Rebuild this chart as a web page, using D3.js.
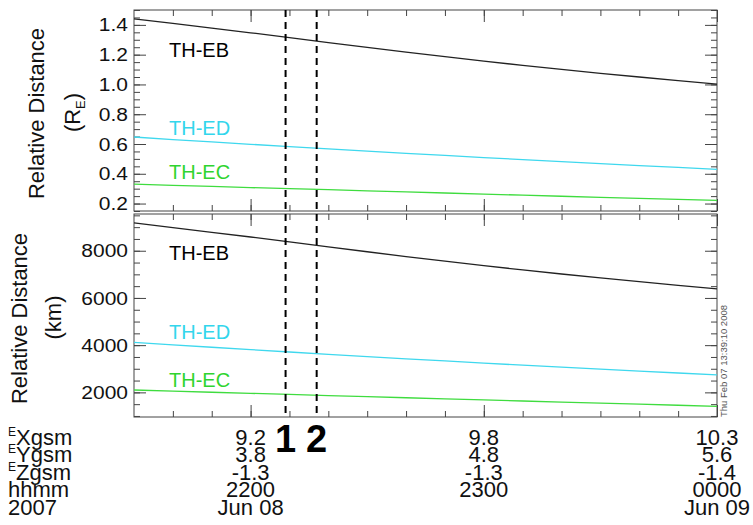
<!DOCTYPE html>
<html>
<head>
<meta charset="utf-8">
<script src="https://cdn.jsdelivr.net/npm/d3@7"></script>
<style>
  body { margin: 0; background: #fff; }
  svg { display: block; font-family: "Liberation Sans", Arial, Helvetica, sans-serif; }
</style>
</head>
<body>
<svg id="chart" width="753" height="525"></svg>
<script>
// ---- data (10 minute samples) ----
const sampleTimes = [
  "2007-06-08 21:30", "2007-06-08 21:40", "2007-06-08 21:50", "2007-06-08 22:00",
  "2007-06-08 22:10", "2007-06-08 22:20", "2007-06-08 22:30", "2007-06-08 22:40",
  "2007-06-08 22:50", "2007-06-08 23:00", "2007-06-08 23:10", "2007-06-08 23:20",
  "2007-06-08 23:30", "2007-06-08 23:40", "2007-06-08 23:50", "2007-06-09 00:00"
];
// relative distance in Earth radii
const ebRe = [1.441, 1.410, 1.378, 1.347, 1.314, 1.281, 1.249, 1.217, 1.187, 1.157, 1.128, 1.101, 1.075, 1.050, 1.025, 1.002];
const edRe = [0.647, 0.630, 0.614, 0.598, 0.582, 0.567, 0.552, 0.537, 0.523, 0.509, 0.495, 0.481, 0.468, 0.455, 0.443, 0.430];
const ecRe = [0.330, 0.322, 0.315, 0.307, 0.300, 0.293, 0.285, 0.278, 0.271, 0.264, 0.256, 0.249, 0.242, 0.235, 0.228, 0.221];
// relative distance in km
const ebKm = [9180, 8983, 8779, 8582, 8372, 8161, 7957, 7753, 7562, 7371, 7187, 7014, 6849, 6690, 6530, 6384];
const edKm = [4120, 4015, 3912, 3810, 3710, 3612, 3516, 3422, 3330, 3240, 3152, 3066, 2982, 2900, 2820, 2740];
const ecKm = [2100, 2052, 2005, 1958, 1911, 1864, 1818, 1772, 1726, 1680, 1634, 1589, 1544, 1499, 1454, 1410];

const seriesNames = ["TH-EB", "TH-ED", "TH-EC"];
const seriesColors = ["#222222", "#3fd8ee", "#3fdc3f"];
const labelColors = ["#000000", "#33d6ec", "#2fd42f"];

const reTicks = [0.2, 0.4, 0.6, 0.8, 1.0, 1.2, 1.4];
const kmTicks = [2000, 4000, 6000, 8000];

// ephemeris rows under the time axis
const tickTimes = ["2007-06-08 22:00", "2007-06-08 23:00", "2007-06-09 00:00"];
const xgsmLabels = ["9.2", "9.8", "10.3"];
const ygsmLabels = ["3.8", "4.8", "5.6"];
const zgsmLabels = ["-1.3", "-1.3", "-1.4"];
const hhmmLabels = ["2200", "2300", "0000"];
const dateLabels = ["Jun 08", "", "Jun 09"];

const eventTimes = ["2007-06-08 22:09", "2007-06-08 22:17"];
const eventLabels = ["1", "2"];

// ---- layout ----
const parse = d3.timeParse("%Y-%m-%d %H:%M");
const svg = d3.select("#chart");
const axisColor = "#444";
const left = 134, right = 717;

const x = d3.scaleTime()
  .domain([parse("2007-06-08 21:30"), parse("2007-06-09 00:00")])
  .range([left, right]);

const majorX = tickTimes.map(parse);
const minorX = d3.timeMinute.every(10).range(parse("2007-06-08 21:40"), parse("2007-06-09 00:00"));

const panels = [
  {
    top: 10, bottom: 211, domain: [0.15, 1.5], ticks: reTicks,
    minor: d3.range(3, 31).map(i => i * 0.05), fmt: d3.format(".1f"),
    data: [ebRe, edRe, ecRe], labelVals: [1.186, 0.658, 0.364],
    titleX: 44, unitX: 80, unit: "RE"
  },
  {
    top: 214, bottom: 417, domain: [956, 9557], ticks: kmTicks,
    minor: d3.range(2, 20).map(i => i * 500), fmt: d3.format("d"),
    data: [ebKm, edKm, ecKm], labelVals: [7600, 4280, 2230],
    titleX: 27, unitX: 61, unit: "km"
  }
];

function styleText(sel) {
  sel.selectAll("text")
    .attr("fill", "#111")
    .style("font-size", "21px")
    .style("font-family", "'Liberation Sans', Arial, sans-serif")
    .attr("transform", "scale(1,0.9)");
}

panels.forEach(p => {
  const y = d3.scaleLinear().domain(p.domain).range([p.bottom, p.top]);
  const g = svg.append("g");

  // left axis with labels
  const yl = g.append("g").attr("transform", `translate(${left},0)`)
    .call(d3.axisLeft(y).tickValues(p.ticks).tickSize(-12).tickPadding(6).tickFormat(p.fmt));
  styleText(yl);
  g.append("g").attr("transform", `translate(${left},0)`)
    .call(d3.axisLeft(y).tickValues(p.minor).tickSize(-6).tickFormat(""));
  // right axis, ticks only
  g.append("g").attr("transform", `translate(${right},0)`)
    .call(d3.axisRight(y).tickValues(p.ticks).tickSize(-12).tickFormat(""));
  g.append("g").attr("transform", `translate(${right},0)`)
    .call(d3.axisRight(y).tickValues(p.minor).tickSize(-6).tickFormat(""));
  // top and bottom time ticks
  g.append("g").attr("transform", `translate(0,${p.bottom})`)
    .call(d3.axisBottom(x).tickValues(majorX).tickSize(-12).tickFormat(""));
  g.append("g").attr("transform", `translate(0,${p.bottom})`)
    .call(d3.axisBottom(x).tickValues(minorX).tickSize(-6).tickFormat(""));
  g.append("g").attr("transform", `translate(0,${p.top})`)
    .call(d3.axisTop(x).tickValues(majorX).tickSize(-12).tickFormat(""));
  g.append("g").attr("transform", `translate(0,${p.top})`)
    .call(d3.axisTop(x).tickValues(minorX).tickSize(-6).tickFormat(""));

  g.selectAll(".domain").remove();
  g.selectAll(".tick line").attr("stroke", axisColor);

  g.append("rect")
    .attr("x", left).attr("y", p.top)
    .attr("width", right - left).attr("height", p.bottom - p.top)
    .attr("fill", "none").attr("stroke", axisColor).attr("stroke-width", 1);

  // series
  const line = d3.line()
    .x((d, i) => x(parse(sampleTimes[i])))
    .y(d => y(d));
  p.data.forEach((vals, k) => {
    g.append("path")
      .datum(vals)
      .attr("d", line)
      .attr("fill", "none")
      .attr("stroke", seriesColors[k])
      .attr("stroke-width", 1.3);
    g.append("text")
      .attr("x", x(parse("2007-06-08 21:39")))
      .attr("y", y(p.labelVals[k]))
      .attr("fill", labelColors[k])
      .style("font-size", "20px")
      .text(seriesNames[k]);
  });

  // y titles
  const midY = (p.top + p.bottom) / 2;
  svg.append("text")
    .attr("transform", `translate(${p.titleX},${midY + 3}) rotate(-90)`)
    .attr("text-anchor", "middle")
    .attr("fill", "#111")
    .style("font-size", "22px")
    .text("Relative Distance");
  const u = svg.append("text")
    .attr("transform", `translate(${p.unitX},${midY + 2}) rotate(-90)`)
    .attr("text-anchor", "middle")
    .attr("fill", "#111")
    .style("font-size", "22px");
  if (p.unit === "RE") {
    u.append("tspan").text("(R");
    u.append("tspan").attr("dy", 5).style("font-size", "13px").text("E");
    u.append("tspan").attr("dy", -5).text(")");
  } else {
    u.text("(km)");
  }
});

// event markers
eventTimes.forEach((t, i) => {
  const ex = x(parse(t));
  svg.append("line")
    .attr("x1", ex).attr("x2", ex)
    .attr("y1", panels[0].top).attr("y2", panels[1].bottom)
    .attr("stroke", "#000").attr("stroke-width", 2)
    .attr("stroke-dasharray", "7,5");
  svg.append("text")
    .attr("x", ex).attr("y", 452)
    .attr("text-anchor", "middle")
    .attr("font-weight", "bold")
    .style("font-size", "38px")
    .attr("fill", "#000")
    .text(eventLabels[i]);
});

// ephemeris rows
const rows = [
  { name: "Xgsm", sup: true, vals: xgsmLabels, y: 445 },
  { name: "Ygsm", sup: true, vals: ygsmLabels, y: 462 },
  { name: "Zgsm", sup: true, vals: zgsmLabels, y: 480 },
  { name: "hhmm", sup: false, vals: hhmmLabels, y: 497 },
  { name: "2007", sup: false, vals: dateLabels, y: 515 }
];
rows.forEach(r => {
  const t = svg.append("text")
    .attr("x", 8).attr("y", r.y)
    .attr("fill", "#111")
    .style("font-size", "22px");
  if (r.sup) {
    t.append("tspan").attr("dy", -9).style("font-size", "12px").text("E");
    t.append("tspan").attr("dy", 9).text(r.name);
  } else {
    t.text(r.name);
  }
  r.vals.forEach((v, i) => {
    svg.append("text")
      .attr("x", x(majorX[i]))
      .attr("y", r.y)
      .attr("text-anchor", "middle")
      .attr("fill", "#111")
      .style("font-size", "22px")
      .text(v);
  });
});

// plot time stamp
svg.append("text")
  .attr("transform", `translate(727,417) rotate(-90)`)
  .attr("fill", "#555")
  .style("font-size", "9.5px")
  .text("Thu Feb 07 13:39:10 2008");
</script>
</body>
</html>
